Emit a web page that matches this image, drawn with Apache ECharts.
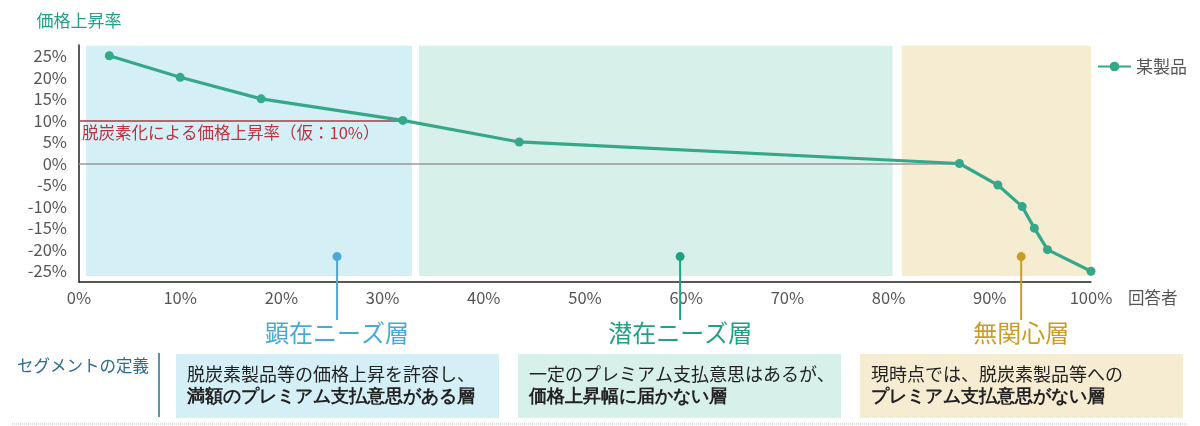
<!DOCTYPE html>
<html>
<head>
<meta charset="utf-8">
<script src="https://cdn.jsdelivr.net/npm/echarts@6/dist/echarts.min.js"></script>
<style>
  html, body { margin: 0; padding: 0; background: #fff; }
  #chart { width: 1200px; height: 426px; }
</style>
</head>
<body>
<div id="chart"></div>
<script>
// データ（回答者の累積割合 % / 価格上昇率 %）
var seriesName = '某製品';
var respondentPct = [3, 10, 18, 32, 43.5, 87, 90.8, 93.2, 94.4, 95.7, 100];
var priceRise = [25, 20, 15, 10, 5, 0, -5, -10, -15, -20, -25];
var yTickLabels = [-25, -20, -15, -10, -5, 0, 5, 10, 15, 20, 25];

// 脱炭素化による価格上昇率（仮）
var thresholdRate = 10;
var thresholdEnd = 32;
var zeroLineEnd = 87;

// セグメント
var segNames = ['顕在ニーズ層', '潜在ニーズ層', '無関心層'];
var segFrom = [0.7, 33.6, 81.3];
var segTo = [32.9, 80.4, 100];
var segPin = [25.5, 59.4, 93.1];
var segDef1 = ['脱炭素製品等の価格上昇を許容し、', '一定のプレミアム支払意思はあるが、', '現時点では、脱炭素製品等への'];
var segDef2 = ['満額のプレミアム支払意思がある層', '価格上昇幅に届かない層', 'プレミアム支払意思がない層'];

var FONT = 'Noto Sans CJK JP';
var areaColors = ['#d5eff6', '#d8f0ea', '#f6ecd2'];
var labelColors = ['#4aa9d3', '#22a084', '#c99c25'];
var lineColor = '#35a88a';

var myChart = echarts.init(document.getElementById('chart'));

var points = respondentPct.map(function (x, i) { return [x, priceRise[i]]; });

var areas = segNames.map(function (n, i) {
    return [
        {xAxis: segFrom[i], yAxis: -26.1, itemStyle: {color: areaColors[i]}},
        {xAxis: segTo[i], yAxis: 27.3}
    ];
});

option = {
    animation: false,
    textStyle: {fontFamily: FONT},
    grid: {left: 79, right: 109, top: 45, bottom: 144},
    legend: {
        left: 1092,
        top: 53,
        itemWidth: 33,
        itemHeight: 12,
        textStyle: {fontSize: 17, color: '#555', fontFamily: FONT},
        data: [seriesName]
    },
    xAxis: {
        type: 'value',
        min: 0,
        max: 100,
        interval: 10,
        name: '回答者',
        nameLocation: 'end',
        nameGap: 37,
        nameTextStyle: {fontSize: 16.5, color: '#555', verticalAlign: 'top', padding: [7, 0, 0, 0]},
        axisLine: {onZero: false, lineStyle: {color: '#222', width: 1.5}},
        axisTick: {show: false},
        splitLine: {show: false},
        axisLabel: {fontSize: 16.5, color: '#555', margin: 7, formatter: '{value}%'}
    },
    yAxis: {
        type: 'value',
        min: -27.5,
        max: 27.5,
        interval: 2.5,
        name: '価格上昇率',
        nameLocation: 'end',
        nameGap: 16,
        nameTextStyle: {fontSize: 17, color: '#22a084', align: 'center'},
        axisLine: {show: true, onZero: false, lineStyle: {color: '#222', width: 1.5}},
        axisTick: {show: false},
        splitLine: {show: false},
        axisLabel: {
            fontSize: 16.5, color: '#555', margin: 12,
            formatter: function (v) {
                return yTickLabels.indexOf(v) >= 0 ? v + '%' : '';
            }
        }
    },
    series: [
        {
            name: seriesName,
            type: 'line',
            data: points,
            symbol: 'circle',
            symbolSize: 9,
            lineStyle: {color: lineColor, width: 3.2},
            itemStyle: {color: lineColor},
            z: 5,
            markArea: {
                silent: true,
                data: areas
            },
            markLine: {
                silent: true,
                symbol: 'none',
                data: [
                    [
                        {coord: [0, 0], lineStyle: {color: '#999', width: 1.5, type: 'solid'}, label: {show: false}},
                        {coord: [zeroLineEnd, 0]}
                    ],
                    [
                        {
                            coord: [0, thresholdRate],
                            lineStyle: {color: '#b5343f', width: 1.5, type: 'solid'},
                            label: {
                                show: true,
                                position: 'insideStartBottom',
                                formatter: '脱炭素化による価格上昇率（仮：' + thresholdRate + '%）',
                                color: '#b5343f',
                                fontSize: 16.5,
                                distance: [3, 4]
                            }
                        },
                        {coord: [thresholdEnd, thresholdRate]}
                    ]
                ]
            }
        }
    ]
};

myChart.setOption(option);

// 注釈（ピン・セグメント名・定義ボックス）
var g = [];
segNames.forEach(function (n, i) {
    var p = myChart.convertToPixel({xAxisIndex: 0, yAxisIndex: 0}, [segPin[i], -21.6]);
    g.push({type: 'line', shape: {x1: p[0], y1: p[1], x2: p[0], y2: 320}, style: {stroke: labelColors[i], lineWidth: 2}, z: 10});
    g.push({type: 'circle', shape: {cx: p[0], cy: p[1], r: 4.5}, style: {fill: labelColors[i]}, z: 11});
    g.push({type: 'text', x: p[0], y: 333, style: {text: n, fill: labelColors[i], fontSize: 24, fontFamily: FONT, align: 'center', verticalAlign: 'middle'}, z: 10});

    var bx = 176 + i * 342;
    g.push({type: 'rect', shape: {x: bx, y: 354, width: 323, height: 64}, style: {fill: areaColors[i]}, z: 1});
    g.push({
        type: 'text', x: bx + 11, y: 386,
        style: {
            text: segDef1[i] + '\n{b|' + segDef2[i] + '}',
            fill: '#222', fontSize: 18, fontFamily: FONT, lineHeight: 23,
            verticalAlign: 'middle',
            rich: {b: {fontWeight: 'bold', fontSize: 18, fill: '#222', lineHeight: 23}}
        },
        z: 2
    });
});
g.push({type: 'text', x: 17, y: 366, style: {text: 'セグメントの定義', fill: '#2d6d8c', fontSize: 16.5, fontFamily: FONT, verticalAlign: 'middle'}});
g.push({type: 'line', shape: {x1: 159, y1: 353, x2: 159, y2: 417}, style: {stroke: '#2d6d8c', lineWidth: 1.5}});
g.push({type: 'line', shape: {x1: 12, y1: 424, x2: 1188, y2: 424}, style: {stroke: '#bbb', lineWidth: 1, lineDash: [1, 1]}});

myChart.setOption({graphic: g});
</script>
</body>
</html>
